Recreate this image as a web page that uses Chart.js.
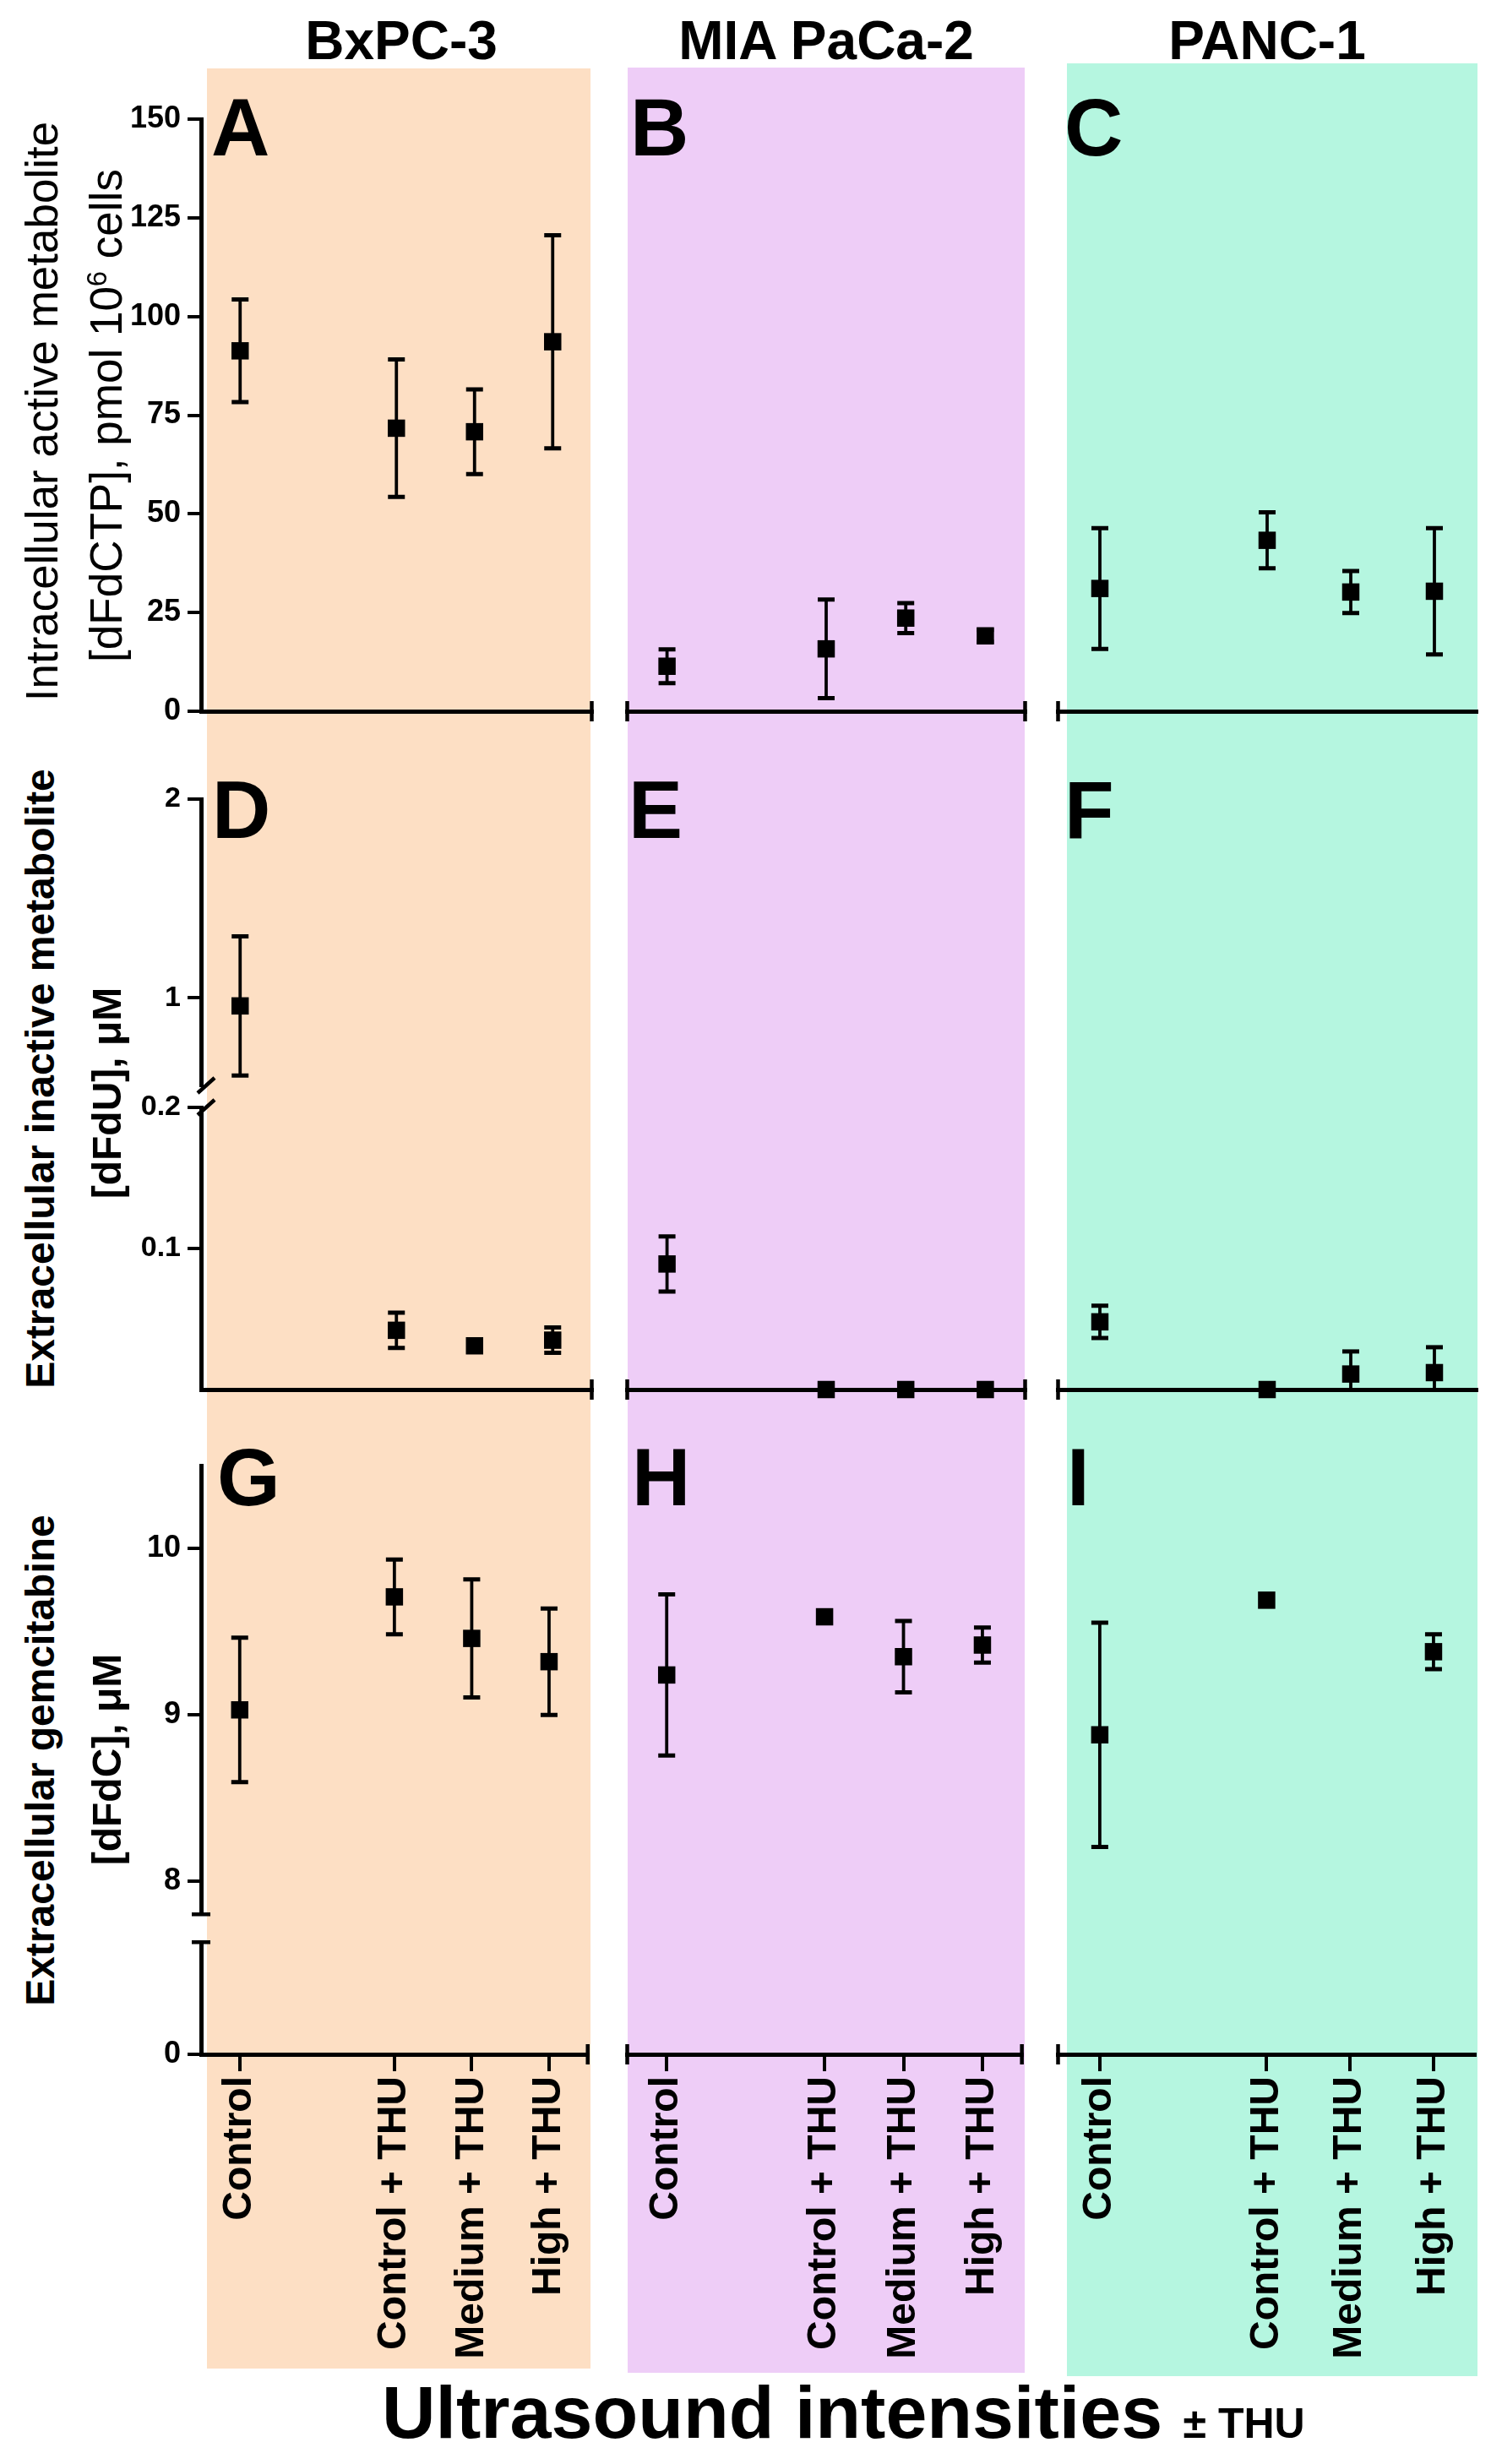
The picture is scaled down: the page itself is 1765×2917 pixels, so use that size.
<!DOCTYPE html>
<html>
<head>
<meta charset="utf-8">
<title>Gemcitabine metabolites vs ultrasound intensity</title>
<script src="https://cdn.jsdelivr.net/npm/chart.js@4.4.1/dist/chart.umd.min.js"></script>
<style>
  body { margin: 0; background: #fff; }
  #fig { position: relative; width: 1765px; height: 2917px; overflow: hidden; font-family: "Liberation Sans", Arial, sans-serif; }
  #fig .bg { position: absolute; }
  #fig canvas { position: absolute; }
  #fig .txt { position: absolute; color: #000; white-space: nowrap; line-height: 1; z-index: 2; }
</style>
</head>
<body>
<div id="fig"></div>
<script>
// categories
const cellLines = ['BxPC-3', 'MIA PaCa-2', 'PANC-1'];
const groups = ['Control', '', 'Control + THU', 'Medium + THU', 'High + THU'];
const panelLetters = ['A', 'B', 'C', 'D', 'E', 'F', 'G', 'H', 'I'];

// A-C: intracellular dFdCTP, pmol / 10^6 cells (mean, error)
const ctpBx = [91.3, null, 71.7, 70.8, 93.6];
const ctpBxErr = [13.0, null, 17.4, 10.7, 27.0];
const ctpMia = [11.4, null, 15.8, 23.6, 19.1];
const ctpMiaErr = [4.3, null, 12.5, 3.8, 1.5];
const ctpPanc = [31.1, null, 43.3, 30.2, 30.4];
const ctpPancErr = [15.3, null, 7.1, 5.3, 16.0];

// D-F: extracellular dFdU, uM
const dfduBx = [0.96, null, 0.042, 0.031, 0.035];
const dfduBxErr = [0.35, null, 0.0125, 0, 0.009];
const dfduMia = [0.089, null, 0, 0, 0];
const dfduMiaErr = [0.0195, null, 0, 0, 0];
const dfduPanc = [0.048, null, 0, 0.011, 0.012];
const dfduPancErr = [0.0115, null, 0, 0.016, 0.018];

// G-I: extracellular dFdC, uM
const dfdcBx = [9.03, null, 9.71, 9.46, 9.32];
const dfdcBxErr = [0.435, null, 0.225, 0.355, 0.32];
const dfdcMia = [9.24, null, 9.59, 9.35, 9.42];
const dfdcMiaErr = [0.485, null, 0, 0.215, 0.105];
const dfdcPanc = [8.88, null, 9.69, null, 9.38];
const dfdcPancErr = [0.675, null, 0, null, 0.105];

// y ticks (rows 2 and 3 use a broken axis: upper / lower part)
const ctpTicks = [0, 25, 50, 75, 100, 125, 150];
const dfduTicksHi = [1, 2];
const dfduTicksLo = [0.1, 0.2];
const dfdcTicksHi = [8, 9, 10];
const dfdcTicksLo = [0];

const yTitles = [
  ['Intracellular active metabolite', '[dFdCTP], pmol 10<span style="font-size:0.62em;position:relative;top:-0.55em">6</span> cells'],
  ['Extracellular inactive metabolite', '[dFdU], \u03bcM'],
  ['Extracellular gemcitabine', '[dFdC], \u03bcM']
];

const FONT = '"Liberation Sans", Arial, sans-serif';
const fig = document.getElementById('fig');

// layout of the figure (pixels)
const bgColors = ['#FDDFC4', '#EECDF7', '#B5F6E0'];
const bgBoxes = [[245, 81, 699, 2804], [743, 80, 1213, 2809], [1263, 75, 1749, 2813]];
const colBox = [
  { left: 238, right: 703, capL: false, capR: true },
  { left: 740, right: 1216, capL: true, capR: true },
  { left: 1250, right: 1750, capL: true, capR: false }
];
const rowBox = [{ top: 141, bottom: 842 }, { top: 946, bottom: 1645 }, { top: 1735, bottom: 2432 }];

const rows = [
  {
    segs: [{ id: 'y', min: 0, max: 150, ticks: ctpTicks, size: 1 }],
    series: [[ctpBx, ctpBxErr], [ctpMia, ctpMiaErr], [ctpPanc, ctpPancErr]],
    tickSize: 36, breakStyle: null
  },
  {
    segs: [
      { id: 'yHi', min: 0.56, max: 2, ticks: dfduTicksHi, size: 339 },
      { size: 26 },
      { id: 'yLo', min: 0, max: 0.2, ticks: dfduTicksLo, size: 334 }
    ],
    series: [[dfduBx, dfduBxErr], [dfduMia, dfduMiaErr], [dfduPanc, dfduPancErr]],
    tickSize: 34, breakStyle: 'slash'
  },
  {
    segs: [
      { id: 'yHi', min: 7.8, max: 10.5, ticks: dfdcTicksHi, size: 532 },
      { size: 33 },
      { id: 'yLo', min: 0, max: 1, ticks: dfdcTicksLo, size: 133 }
    ],
    series: [[dfdcBx, dfdcBxErr], [dfdcMia, dfdcMiaErr], [dfdcPanc, dfdcPancErr]],
    tickSize: 36, breakStyle: 'cap'
  }
];

// error bars from the dataset's own y scale
const errorBars = {
  id: 'errorBars',
  beforeDatasetsDraw(chart) {
    const ctx = chart.ctx;
    ctx.save();
    ctx.strokeStyle = '#000';
    chart.data.datasets.forEach((ds, i) => {
      const meta = chart.getDatasetMeta(i);
      const ys = chart.scales[ds.yAxisID];
      ds.data.forEach((v, j) => {
        const e = ds.errors[j];
        if (v == null || !e) return;
        const x = meta.data[j].x;
        const y1 = ys.getPixelForValue(v + e);
        const y2 = ys.getPixelForValue(Math.max(v - e, ys.min));
        ctx.lineWidth = 3.8;
        ctx.beginPath();
        ctx.moveTo(x, y1); ctx.lineTo(x, y2);
        ctx.stroke();
        ctx.lineWidth = 5;
        ctx.beginPath();
        ctx.moveTo(x - 10, y1); ctx.lineTo(x + 10, y1);
        if (v - e >= ys.min) { ctx.moveTo(x - 10, y2); ctx.lineTo(x + 10, y2); }
        ctx.stroke();
      });
    });
    ctx.restore();
  }
};

// axis end caps and axis break marks
const axisMarks = {
  id: 'axisMarks',
  afterDraw(chart, args, opts) {
    const ctx = chart.ctx;
    const { left, right, bottom } = chart.chartArea;
    ctx.save();
    ctx.strokeStyle = '#000';
    ctx.lineWidth = 4.5;
    ctx.beginPath();
    if (opts.capL) { ctx.moveTo(left, bottom - 12); ctx.lineTo(left, bottom + 12); }
    if (opts.capR) { ctx.moveTo(right, bottom - 12); ctx.lineTo(right, bottom + 12); }
    if (opts.breakStyle && opts.showY) {
      [chart.scales.yHi.bottom, chart.scales.yLo.top].forEach(y => {
        if (opts.breakStyle === 'slash') {
          ctx.moveTo(left - 4, y + 9); ctx.lineTo(left + 16, y - 9);
        } else {
          ctx.moveTo(left - 11, y); ctx.lineTo(left + 11, y);
        }
      });
    }
    ctx.stroke();
    ctx.restore();
  }
};

const Y_AXIS_W = 100, PAD_T = 40, PAD_SIDE = 12;

function makePanel(r, c) {
  const row = rows[r], col = colBox[c], rb = rowBox[r];
  const showY = c === 0;
  const bottomRow = r === 2;
  const xAxisH = bottomRow ? 380 : 0;
  const padB = bottomRow ? 10 : 30;
  const left = showY ? col.left - Y_AXIS_W : col.left - PAD_SIDE;
  const top = rb.top - PAD_T;
  const width = col.right + PAD_SIDE - left;
  const height = rb.bottom + xAxisH + padB - top;

  const cv = document.createElement('canvas');
  cv.width = width; cv.height = height;
  Object.assign(cv.style, { left: left + 'px', top: top + 'px', width: width + 'px', height: height + 'px' });
  fig.appendChild(cv);

  const scales = {
    x: {
      type: 'category', labels: groups, offset: true, position: 'bottom',
      border: { display: true, color: '#000', width: 5 },
      grid: {
        display: true, drawOnChartArea: false, drawTicks: bottomRow, tickLength: 20, lineWidth: 4,
        color: ctx => (ctx.tick && ctx.tick.label === '') ? 'rgba(0,0,0,0)' : '#000'
      },
      ticks: {
        display: bottomRow, autoSkip: false, minRotation: 90, maxRotation: 90, padding: 6, color: '#000',
        font: { family: FONT, size: 48, weight: 'bold' }
      },
      afterFit: s => { s.height = xAxisH; }
    }
  };

  const n = row.segs.length;
  row.segs.forEach((s, i) => {
    const id = s.id || ('gap' + i);
    scales[id] = {
      type: 'linear', position: 'left', stack: 'ystack', stackWeight: s.size, weight: n - i,
      display: showY && !!s.id,
      min: s.id ? s.min : 0, max: s.id ? s.max : 1,
      border: { display: true, color: '#000', width: 5 },
      grid: { display: true, drawOnChartArea: false, drawTicks: true, tickLength: 16, lineWidth: 4, color: '#000' },
      ticks: {
        color: '#000', padding: 8, font: { family: FONT, size: row.tickSize, weight: 'bold' },
        callback: v => String(v)
      },
      afterBuildTicks: sc => { sc.ticks = (s.ticks || []).map(v => ({ value: v })); },
      afterFit: sc => { sc.width = showY ? Y_AXIS_W : 0; }
    };
  });

  const [mean, err] = row.series[c];
  const datasets = row.segs.filter(s => s.id).map(s => {
    const inSeg = v => v != null && v >= s.min && v <= s.max;
    return {
      data: mean.map(v => inSeg(v) ? v : null),
      errors: err.map((e, j) => inSeg(mean[j]) ? e : null),
      yAxisID: s.id, xAxisID: 'x',
      showLine: false, pointStyle: 'rect', pointRadius: 14.5, pointHoverRadius: 14.5,
      pointBackgroundColor: '#000', pointBorderWidth: 0, clip: false
    };
  });

  new Chart(cv, {
    type: 'line',
    data: { labels: groups, datasets },
    options: {
      responsive: false, animation: false, events: [],
      layout: { padding: { top: PAD_T, bottom: padB, left: showY ? 0 : PAD_SIDE, right: PAD_SIDE } },
      scales,
      plugins: {
        legend: { display: false }, tooltip: { enabled: false },
        axisMarks: { capL: col.capL, capR: col.capR, breakStyle: row.breakStyle, showY }
      }
    },
    plugins: [errorBars, axisMarks]
  });
}

function addText(html, css) {
  const d = document.createElement('div');
  d.className = 'txt';
  d.innerHTML = html;
  Object.assign(d.style, css);
  fig.appendChild(d);
  return d;
}

// rotated y-axis title line, centred at (cx, cy)
function addVText(html, cx, cy, size, weight) {
  const w = 900, h = Math.round(size * 1.2);
  addText(html, {
    left: (cx - w / 2) + 'px', top: (cy - h / 2) + 'px', width: w + 'px', height: h + 'px',
    lineHeight: h + 'px', textAlign: 'center', fontSize: size + 'px', fontWeight: weight,
    transform: 'rotate(-90deg)'
  });
}

// coloured column backgrounds
bgBoxes.forEach((b, i) => {
  const d = document.createElement('div');
  d.className = 'bg';
  Object.assign(d.style, { left: b[0] + 'px', top: b[1] + 'px', width: (b[2] - b[0]) + 'px', height: (b[3] - b[1]) + 'px', background: bgColors[i] });
  fig.appendChild(d);
});

for (let r = 0; r < 3; r++) for (let c = 0; c < 3; c++) makePanel(r, c);

// column titles
[475, 978, 1500].forEach((cx, i) => {
  addText(cellLines[i], { left: (cx - 300) + 'px', top: '16px', width: '600px', textAlign: 'center', fontSize: '64px', fontWeight: 'bold' });
});

// panel letters
const letterLeft = [[250, 746, 1260], [251, 744, 1260], [257, 748, 1263]];
const letterTop = [103, 911, 1701];
panelLetters.forEach((L, k) => {
  const r = Math.floor(k / 3), c = k % 3;
  addText(L, { left: letterLeft[r][c] + 'px', top: letterTop[r] + 'px', fontSize: '96px', fontWeight: 'bold' });
});

// y-axis titles
addVText(yTitles[0][0], 50, 487, 53, 'normal');
addVText(yTitles[0][1], 126, 492, 53, 'normal');
addVText(yTitles[1][0], 48, 1277, 48, 'bold');
addVText(yTitles[1][1], 127, 1294, 48, 'bold');
addVText(yTitles[2][0], 48, 2084, 48, 'bold');
addVText(yTitles[2][1], 127, 2083, 48, 'bold');

// x-axis title
addText('Ultrasound intensities <span style="font-size:50px">\u00b1 THU</span>', {
  left: '452px', top: '2812px', fontSize: '88px', fontWeight: 'bold'
});
</script>
</body>
</html>
